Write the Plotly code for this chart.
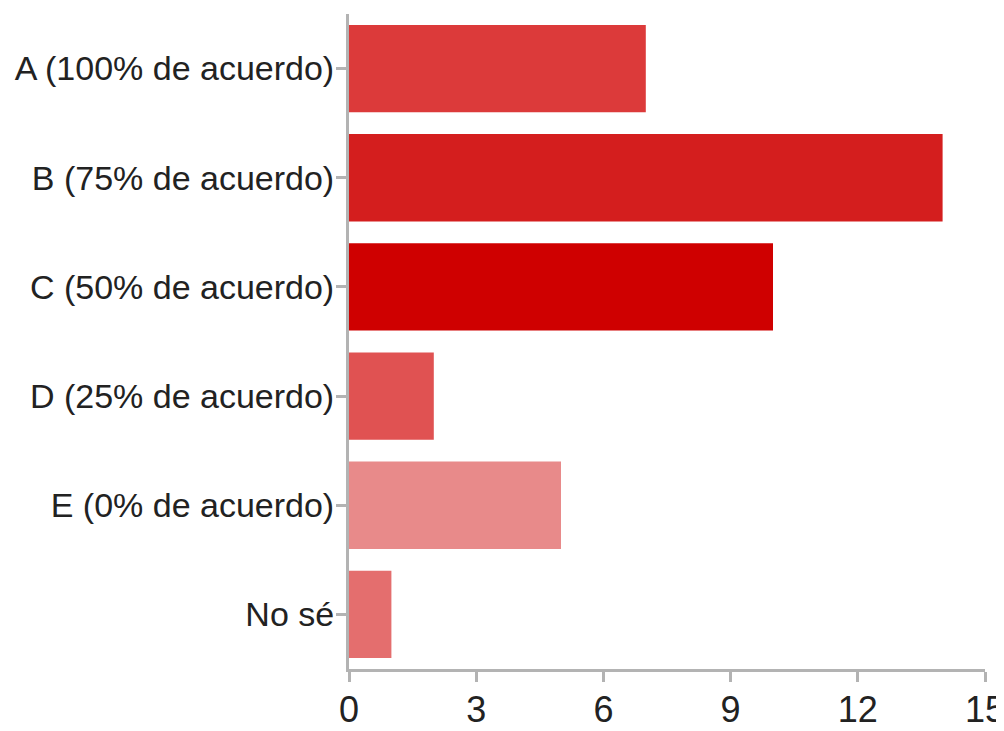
import plotly.graph_objects as go

categories = ["A (100% de acuerdo)", "B (75% de acuerdo)", "C (50% de acuerdo)",
              "D (25% de acuerdo)", "E (0% de acuerdo)", "No sé"]
values = [7, 14, 10, 2, 5, 1]
x_ticks = [0, 3, 6, 9, 12, 15]

bar_colors = ["#dc3a3a", "#d41e1e", "#cf0000", "#e05252", "#e88a8a", "#e46e6e"]

fig = go.Figure(go.Bar(
    x=values, y=categories, orientation="h",
    marker=dict(color=bar_colors, line=dict(width=0)),
    width=0.8,
))

axis_color = "#b3b3b3"
# page body adds an 8px offset; figure sized to fill the remaining window
fig.update_layout(
    width=996, height=723,
    margin=dict(l=341, r=19, t=6, b=62),
    paper_bgcolor="white", plot_bgcolor="white",
    showlegend=False,
    font=dict(family="Liberation Sans, Arial, sans-serif", color="#222222"),
)
fig.update_xaxes(
    range=[0, 15], tickvals=x_ticks, ticktext=[str(v) for v in x_ticks],
    showgrid=False, zeroline=False, automargin=False,
    ticklabeloverflow="allow", ticklabelstandoff=-3,
    showline=True, linecolor=axis_color, linewidth=3,
    ticks="outside", ticklen=10, tickwidth=3, tickcolor=axis_color,
    tickfont=dict(size=36, color="#222222"),
)
fig.update_yaxes(
    categoryorder="array", categoryarray=categories, autorange="reversed",
    showgrid=False, zeroline=False, automargin=False,
    ticklabelstandoff=-5,
    showline=True, linecolor=axis_color, linewidth=3,
    ticks="outside", ticklen=10, tickwidth=3, tickcolor=axis_color,
    tickfont=dict(size=34, color="#222222"),
)

fig.write_html("out.html")
